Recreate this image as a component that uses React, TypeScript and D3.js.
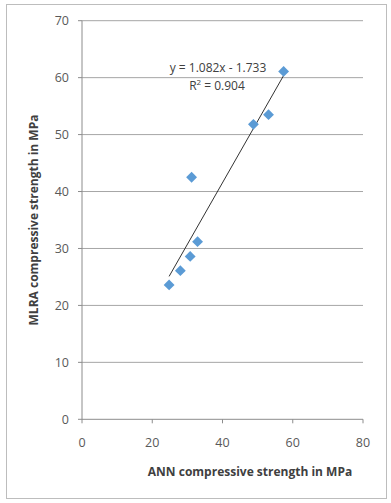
import React from 'react';
import * as d3 from 'd3';

const annValues = [24.8, 28.0, 30.8, 32.9, 31.2, 48.8, 53.1, 57.4];
const mlraValues = [23.6, 26.1, 28.6, 31.2, 42.5, 51.8, 53.5, 61.1];
const xTicks = [0, 20, 40, 60, 80];
const yTicks = [0, 10, 20, 30, 40, 50, 60, 70];
const slope = 1.082;
const intercept = -1.733;
const rSquared = 0.904;

const WIDTH = 391,
    HEIGHT = 503;

const PLOT = { LEFT: 82, RIGHT: 363, TOP: 20.7, BOTTOM: 419.3 };

const FONT = '"Open Sans", "Liberation Sans", sans-serif';

const App = () => {
    const xScale = d3.scaleLinear().domain([0, 80]).range([PLOT.LEFT, PLOT.RIGHT]);
    const yScale = d3.scaleLinear().domain([0, 70]).range([PLOT.BOTTOM, PLOT.TOP]);

    const points = annValues.map((x, i) => ({ x, y: mlraValues[i] }));
    const xMin = d3.min(annValues) as number,
        xMax = d3.max(annValues) as number;

    const trend = d3.line<number>()
        .x(d => xScale(d))
        .y(d => yScale(slope * d + intercept))([xMin, xMax]);

    const diamond = d3.symbol().type(d3.symbolDiamond2).size(75)();

    return (
        <svg width={WIDTH} height={HEIGHT} style={{ position: 'absolute', left: 0, top: 0 }} fontFamily={FONT}>
            <rect x={0} y={0} width={WIDTH} height={HEIGHT} fill='#fff' />
            <rect x={6.5} y={4.5} width={380} height={494} fill='none' stroke='#bdbdbd' />

            {/* gridlines */}
            {yTicks.filter(t => t > 0).map(t => (
                <line key={`g-${t}`} x1={PLOT.LEFT} x2={PLOT.RIGHT} y1={yScale(t)} y2={yScale(t)} stroke='#a6a6a6' strokeWidth={1} />
            ))}

            {/* axes */}
            <line x1={PLOT.LEFT} x2={PLOT.LEFT} y1={PLOT.TOP} y2={PLOT.BOTTOM} stroke='#8c8c8c' />
            <line x1={PLOT.LEFT} x2={PLOT.RIGHT} y1={PLOT.BOTTOM} y2={PLOT.BOTTOM} stroke='#8c8c8c' />

            {yTicks.map(t => (
                <g key={`y-${t}`}>
                    <line x1={PLOT.LEFT - 4} x2={PLOT.LEFT} y1={yScale(t)} y2={yScale(t)} stroke='#8c8c8c' />
                    <text x={PLOT.LEFT - 13} y={yScale(t)} dy='0.35em' textAnchor='end' fontSize={12.5} fill='#595959'>{t}</text>
                </g>
            ))}

            {xTicks.map(t => (
                <g key={`x-${t}`}>
                    <line x1={xScale(t)} x2={xScale(t)} y1={PLOT.BOTTOM} y2={PLOT.BOTTOM + 4} stroke='#8c8c8c' />
                    <text x={xScale(t)} y={443} dy='0.35em' textAnchor='middle' fontSize={12.5} fill='#595959'>{t}</text>
                </g>
            ))}

            {/* axis titles */}
            <text x={250} y={472} dy='0.35em' textAnchor='middle' fontSize={12} fontWeight='bold' fill='#404040'>ANN compressive strength in MPa</text>
            <text transform={`translate(34, 220) rotate(-90)`} dy='0.35em' textAnchor='middle' fontSize={12} fontWeight='bold' fill='#404040'>MLRA compressive strength in MPa</text>

            {/* trend line */}
            <path d={trend ?? ''} fill='none' stroke='#333' strokeWidth={1} />

            {/* markers */}
            {points.map((p, i) => (
                <path key={`p-${i}`} d={diamond ?? ''} transform={`translate(${xScale(p.x)}, ${yScale(p.y)})`} fill='#5b9bd5' />
            ))}

            {/* equation label */}
            <text x={218} y={72} textAnchor='middle' fontSize={12} fill='#404040'>{`y = ${slope}x - ${Math.abs(intercept)}`}</text>
            <text x={217} y={90} textAnchor='middle' fontSize={12} fill='#404040'>
                R<tspan fontSize={8} dy={-5}>2</tspan><tspan dy={5}>{` = ${rSquared}`}</tspan>
            </text>
        </svg>
    );
};

export default App;
